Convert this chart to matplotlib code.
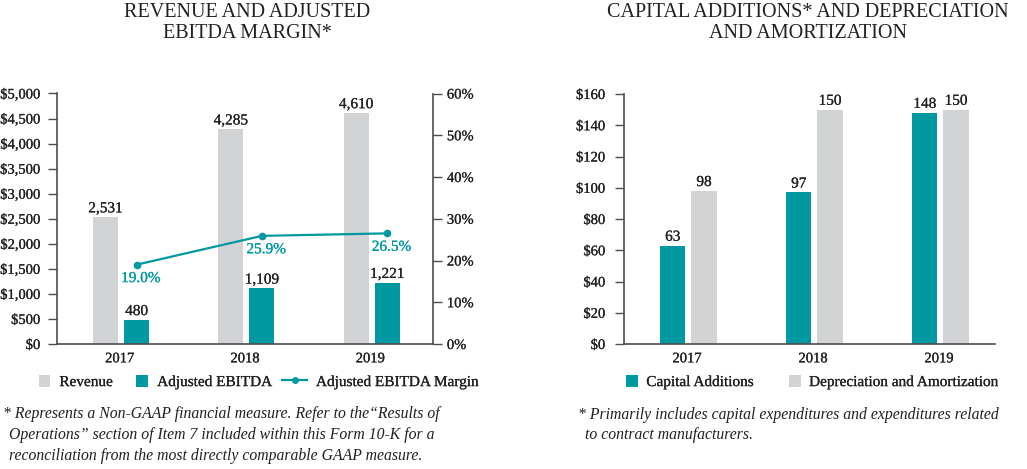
import matplotlib
matplotlib.use("Agg")
import matplotlib.pyplot as plt
from matplotlib.patches import Rectangle, Patch
from matplotlib.lines import Line2D
from matplotlib.legend_handler import HandlerPatch
from matplotlib.ticker import FixedLocator
import matplotlib.patheffects as pe
import matplotlib.text as mtext
import numpy as np

# ---------------- data ----------------
years = ["2017", "2018", "2019"]
revenue = [2531, 4285, 4610]
adj_ebitda = [480, 1109, 1221]
ebitda_margin = [19.0, 25.9, 26.5]
rev_ticks = [0, 500, 1000, 1500, 2000, 2500, 3000, 3500, 4000, 4500, 5000]
pct_ticks = [0, 10, 20, 30, 40, 50, 60]

capital_additions = [63, 97, 148]
dep_amort = [98, 150, 150]
cap_ticks = [0, 20, 40, 60, 80, 100, 120, 140, 160]

title_left = "REVENUE AND ADJUSTED\nEBITDA MARGIN*"
title_right = "CAPITAL ADDITIONS* AND DEPRECIATION\nAND AMORTIZATION"
foot_left = ["* Represents a Non-GAAP financial measure. Refer to the\u201cResults of",
             "Operations\u201d section of Item 7 included within this Form 10-K for a",
             "reconciliation from the most directly comparable GAAP measure."]
foot_right = ["* Primarily includes capital expenditures and expenditures related",
              "to contract manufacturers."]

# ---------------- style ----------------
TEAL = "#0098A1"
GRAY = "#D1D3D4"
TXT = "#231F20"
SPINE = "#4D4D4F"
plt.rcParams["font.family"] = ["Liberation Serif", "DejaVu Serif"]
plt.rcParams["text.color"] = TXT

W, H = 1027, 469
fig = plt.figure(figsize=(W / 100, H / 100), dpi=100)


def fx(px):
    return px / W


def fy(py):
    return 1 - py / H


class SquareRight(HandlerPatch):
    def create_artists(self, legend, orig_handle, xdescent, ydescent,
                       width, height, fontsize, trans):
        s = height
        p = Rectangle((-xdescent + width - s, -ydescent + (height - s) / 2), s, s,
                      facecolor=orig_handle.get_facecolor(), edgecolor="none",
                      transform=trans)
        return [p]


def style_axes(ax):
    for side in ["top", "right"]:
        ax.spines[side].set_visible(False)
    for side in ["left", "bottom"]:
        ax.spines[side].set_color(SPINE)
        ax.spines[side].set_linewidth(1.2)
    ax.tick_params(axis="x", length=0, pad=6, labelsize=10.5, colors=TXT)
    ax.tick_params(axis="y", length=6.5, width=1.0, color=SPINE, labelsize=10.5,
                   labelcolor=TXT, pad=5.5)


x = np.arange(len(years))
bw = 0.2
off_a, off_b = -0.113, 0.135

# ---------------- left chart ----------------
axL = fig.add_axes([fx(57), fy(344), fx(433 - 57), (344 - 93.5) / H])
style_axes(axL)
axL.bar(x + off_a, revenue, bw, color=GRAY, label="Revenue", zorder=2)
axL.bar(x + off_b, adj_ebitda, bw, color=TEAL, label="Adjusted EBITDA", zorder=2)
axL.set_xlim(-0.5, 2.5)
axL.set_ylim(0, 5000)
axL.yaxis.set_major_locator(FixedLocator(rev_ticks))
axL.set_yticklabels(["${:,}".format(v) for v in rev_ticks])
axL.set_xticks(x)
axL.set_xticklabels(years)
for xi, v in zip(x + off_a, revenue):
    axL.annotate("{:,}".format(v), (xi, v), xytext=(0, 3.5), textcoords="offset points",
                 ha="center", va="baseline", fontsize=11, color=TXT)
for xi, v in zip(x + off_b, adj_ebitda):
    axL.annotate("{:,}".format(v), (xi, v), xytext=(0, 3.5), textcoords="offset points",
                 ha="center", va="baseline", fontsize=11, color=TXT)

axR2 = axL.twinx()
axR2.set_position(axL.get_position())
for side in ["top", "left", "bottom"]:
    axR2.spines[side].set_visible(False)
axR2.spines["right"].set_color(SPINE)
axR2.spines["right"].set_linewidth(1.2)
axR2.set_ylim(0, 60)
axR2.yaxis.set_major_locator(FixedLocator(pct_ticks))
axR2.set_yticklabels(["{}%".format(v) for v in pct_ticks])
axR2.tick_params(axis="y", length=6.5, width=1.0, color=SPINE, labelsize=10.5,
                 labelcolor=TXT, pad=3.5)
line, = axR2.plot(x + off_b, ebitda_margin, color=TEAL, lw=1.6, marker="o",
                  markersize=4.5, label="Adjusted EBITDA Margin", zorder=3)
for xi, v in zip(x + off_b, ebitda_margin):
    axR2.annotate("{:.1f}%".format(v), (xi, v), xytext=(3, -10), textcoords="offset points",
                  ha="center", va="center", fontsize=11, color=TEAL)

handles = [Patch(facecolor=GRAY), Patch(facecolor=TEAL),
           Line2D([], [], color=TEAL, lw=1.6, marker="o", markersize=4)]
labels = ["Revenue", "Adjusted EBITDA", "Adjusted EBITDA Margin"]
fig.legend(handles, labels, loc="center", bbox_to_anchor=(fx(252), fy(382)), ncol=3,
           frameon=False, fontsize=11, handlelength=1.6, handleheight=0.8,
           handletextpad=0.6, columnspacing=0.7, borderpad=0, borderaxespad=0,
           handler_map={Patch: SquareRight()})

# ---------------- right chart ----------------
axC = fig.add_axes([fx(624), fy(344), fx(995 - 624), (344 - 94) / H])
style_axes(axC)
axC.tick_params(axis="y", pad=7)
axC.bar(x + off_a, capital_additions, bw, color=TEAL, zorder=2)
axC.bar(x + off_b, dep_amort, bw, color=GRAY, zorder=2)
axC.set_xlim(-0.5, 2.444)
axC.set_ylim(0, 160)
axC.yaxis.set_major_locator(FixedLocator(cap_ticks))
axC.set_yticklabels(["${}".format(v) for v in cap_ticks])
axC.set_xticks(x)
axC.set_xticklabels(years)
for xi, v in zip(x + off_a, capital_additions):
    axC.annotate("{}".format(v), (xi, v), xytext=(0, 3.5), textcoords="offset points",
                 ha="center", va="baseline", fontsize=11, color=TXT)
for xi, v in zip(x + off_b, dep_amort):
    axC.annotate("{}".format(v), (xi, v), xytext=(0, 3.5), textcoords="offset points",
                 ha="center", va="baseline", fontsize=11, color=TXT)

fig.legend([Patch(facecolor=TEAL), Patch(facecolor=GRAY)],
           ["Capital Additions", "Depreciation and Amortization"],
           loc="center", bbox_to_anchor=(fx(812), fy(382)), ncol=2, frameon=False,
           fontsize=11, handlelength=0.8, handleheight=0.8, handletextpad=0.55,
           columnspacing=2.3, borderpad=0, borderaxespad=0,
           handler_map={Patch: SquareRight()})

# slightly heavier text for labels/ticks to mimic the printed typeface
fig.canvas.draw()
for t in fig.findobj(mtext.Text):
    if t.get_text():
        t.set_path_effects([pe.withStroke(linewidth=0.15, foreground=t.get_color())])

# ---------------- titles ----------------
fig.text(fx(247), fy(23), title_left, ha="center", va="center", fontsize=14.5,
         linespacing=1.2, color=TXT)
fig.text(fx(808), fy(23), title_right, ha="center", va="center", fontsize=14.5,
         linespacing=1.2, color=TXT)

# ---------------- footnotes ----------------
fl_y = [414, 435, 456]
fl_x = [3, 9, 9]
for t, xx, yy in zip(foot_left, fl_x, fl_y):
    fig.text(fx(xx), fy(yy), t, ha="left", va="center", fontsize=11.3, style="italic",
             color=TXT)
fr_y = [415, 435]
fr_x = [578, 585]
for t, xx, yy in zip(foot_right, fr_x, fr_y):
    fig.text(fx(xx), fy(yy), t, ha="left", va="center", fontsize=11.3, style="italic",
             color=TXT)

fig.savefig("out.png", dpi=100)
